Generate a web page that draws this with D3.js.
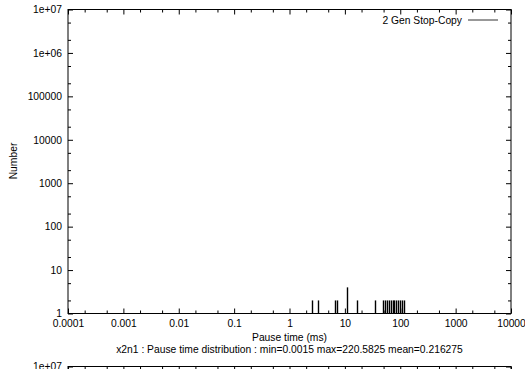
<!DOCTYPE html>
<html>
<head>
<meta charset="utf-8">
<script src="https://cdn.jsdelivr.net/npm/d3@7"></script>
<style>
  body { margin: 0; background: #fff; }
  text { font-family: "Liberation Sans", Arial, sans-serif; }
</style>
</head>
<body>
<svg id="chart"></svg>
<script>

/*Chart data*/
var pauseTimes = [2.5, 3.3, 6.6, 7.1, 10.8, 16.4, 35, 48, 52, 57, 62, 67, 73, 78.5, 85, 90, 98, 108, 117, 220.58];
var pauseCounts = [2, 2, 2, 2, 4, 2, 2, 2, 2, 2, 2, 2, 2, 2, 2, 2, 2, 2, 2, 1];
var seriesName = "2 Gen Stop-Copy";

var xTickValues = [0.0001, 0.001, 0.01, 0.1, 1, 10, 100, 1000, 10000];
var xTickLabels = ["0.0001", "0.001", "0.01", "0.1", "1", "10", "100", "1000", "10000"];
var yTickValues = [1, 10, 100, 1000, 10000, 100000, 1e6, 1e7];
var yTickLabels = ["1", "10", "100", "1000", "10000", "100000", "1e+06", "1e+07"];

var xLabel = "Pause time (ms)";
var yLabel = "Number";
var title = "x2n1 : Pause time distribution : min=0.0015 max=220.5825 mean=0.216275";

/*Layout*/
var width = 525, height = 369;
var left = 68, plotW = 443, plotH = 304;
var majorLen = 5, minorLen = 3;
var fontSize = "10.3px";

var svg = d3.select("#chart")
    .attr("width", width)
    .attr("height", height);

var x = d3.scaleLog().domain([0.0001, 10000]).range([0, plotW]);
var y = d3.scaleLog().domain([1, 1e7]).range([plotH, 0]);

//minor ticks at 2 and 5 of every decade
function minorTicks(values) {
    var out = [];
    values.forEach(function (v, i) {
        if (i < values.length - 1) {
            out.push(v * 2, v * 5);
        }
    });
    return out;
}

//Draw the framed log/log box with mirrored ticks
function drawFrame(top, withLabels) {
    var g = svg.append("g").attr("transform", "translate(" + left + "," + top + ")");

    var xMinor = minorTicks(xTickValues);
    var yMinor = minorTicks(yTickValues);

    var bottomAxis = d3.axisBottom(x).tickValues(xTickValues).tickSize(-majorLen).tickPadding(6)
        .tickFormat(function (d, i) { return withLabels ? xTickLabels[i] : ""; });
    var topAxis = d3.axisTop(x).tickValues(xTickValues).tickSize(-majorLen).tickFormat("");
    var leftAxis = d3.axisLeft(y).tickValues(yTickValues).tickSize(-majorLen).tickPadding(6)
        .tickFormat(function (d, i) { return yTickLabels[i]; });
    var rightAxis = d3.axisRight(y).tickValues(yTickValues).tickSize(-majorLen).tickFormat("");

    g.append("g").attr("transform", "translate(0," + plotH + ")").call(bottomAxis);
    g.append("g").call(topAxis);
    g.append("g").call(leftAxis);
    g.append("g").attr("transform", "translate(" + plotW + ",0)").call(rightAxis);

    g.append("g").attr("transform", "translate(0," + plotH + ")")
        .call(d3.axisBottom(x).tickValues(xMinor).tickSize(-minorLen).tickFormat(""));
    g.append("g").call(d3.axisTop(x).tickValues(xMinor).tickSize(-minorLen).tickFormat(""));
    g.append("g").call(d3.axisLeft(y).tickValues(yMinor).tickSize(-minorLen).tickFormat(""));
    g.append("g").attr("transform", "translate(" + plotW + ",0)")
        .call(d3.axisRight(y).tickValues(yMinor).tickSize(-minorLen).tickFormat(""));

    g.selectAll(".domain").remove();
    g.selectAll(".tick line").attr("stroke", "#000");
    g.selectAll(".tick text").attr("fill", "#000").style("font-size", fontSize);

    g.append("rect")
        .attr("x", 0).attr("y", 0)
        .attr("width", plotW).attr("height", plotH)
        .attr("fill", "none").attr("stroke", "#000").attr("stroke-width", 1);

    return g;
}

var plot = drawFrame(9.5, true);

//Impulses
plot.selectAll(".bar")
    .data(pauseTimes)
    .enter()
    .append("line")
    .attr("class", "bar")
    .attr("x1", function (d) { return Math.round(x(d)) + 0.5; })
    .attr("x2", function (d) { return Math.round(x(d)) + 0.5; })
    .attr("y1", y(1))
    .attr("y2", function (d, i) { return y(pauseCounts[i]); })
    .attr("stroke", "#000")
    .attr("stroke-width", 1.4);

//Legend
plot.append("text")
    .attr("x", 394).attr("y", 14)
    .attr("text-anchor", "end")
    .style("font-size", fontSize)
    .text(seriesName);
plot.append("line")
    .attr("x1", 400).attr("x2", 430)
    .attr("y1", 10.5).attr("y2", 10.5)
    .attr("stroke", "#333");

//Axis titles
svg.append("text")
    .attr("transform", "translate(17," + (9 + plotH / 2) + ") rotate(-90)")
    .attr("text-anchor", "middle")
    .style("font-size", fontSize)
    .text(yLabel);

svg.append("text")
    .attr("x", left + plotW / 2).attr("y", 341)
    .attr("text-anchor", "middle")
    .style("font-size", fontSize)
    .text(xLabel);

svg.append("text")
    .attr("x", left + plotW / 2).attr("y", 353)
    .attr("text-anchor", "middle")
    .style("font-size", fontSize)
    .text(title);

//Top of the next chart in the page
drawFrame(366.5, false);

</script>
</body>
</html>
